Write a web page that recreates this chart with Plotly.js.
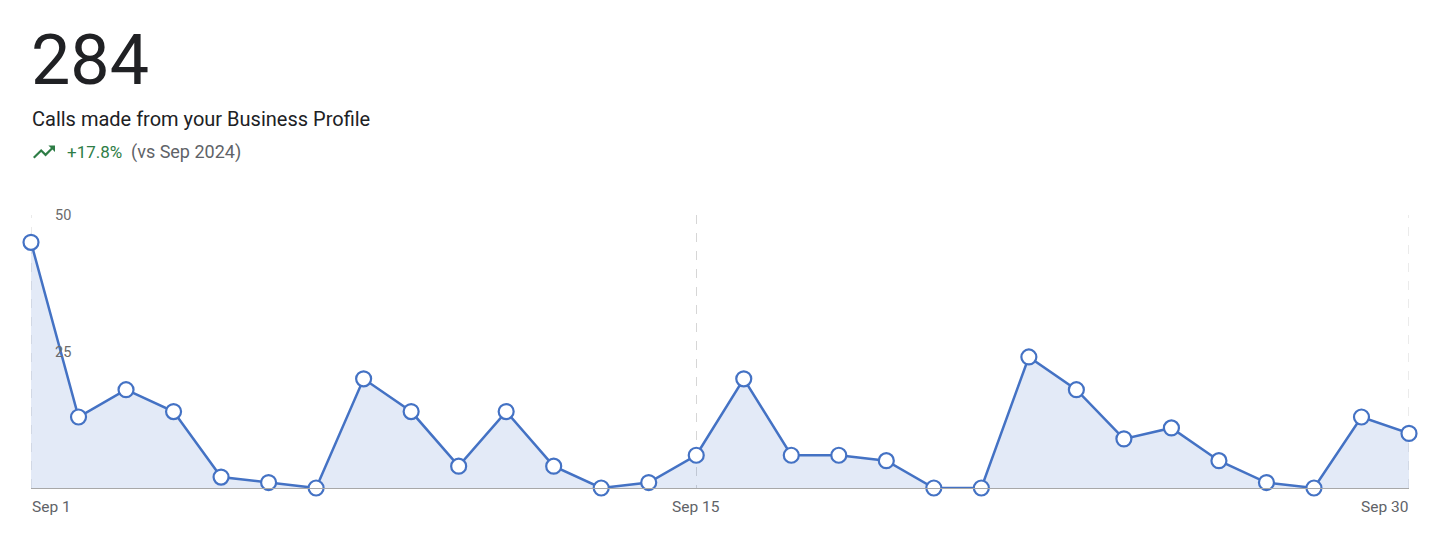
<!DOCTYPE html>
<html>
<head>
<meta charset="utf-8">
<script src="https://cdn.plot.ly/plotly-3.0.1.min.js"></script>
<style>
html,body{margin:0;padding:0;background:#fff;}
#chart{width:1440px;height:541px;}
</style>
</head>
<body>
<div id="chart"></div>
<script>
// ---- data ----
const days = [1,2,3,4,5,6,7,8,9,10,11,12,13,14,15,16,17,18,19,20,21,22,23,24,25,26,27,28,29,30];
const calls = [45,13,18,14,2,1,0,20,14,4,14,4,0,1,6,20,6,6,5,0,0,24,18,9,11,5,1,0,13,10];
const xTickDays = [1,15,30];
const xTickLabels = ["Sep 1","Sep 15","Sep 30"];
const yTickVals = [25,50];
const yTickLabels = ["25","50"];
const totalCalls = "284";
const metricTitle = "Calls made from your Business Profile";
const changeText = "+17.8%";
const compareText = "(vs Sep 2024)";

// ---- layout helpers ----
const W = 1440, H = 541;
const M = {l:31, r:31, t:215, b:53};
const plotW = W - M.l - M.r, plotH = H - M.t - M.b;
const px = X => (X - M.l) / plotW;          // page pixel -> paper x
const py = Y => (H - M.b - Y) / plotH;      // page pixel -> paper y

// trending-up icon path (Material icon, 24x24), in pixels around its centre
const iconPts = [[16,6],[18.29,8.29],[13.41,13.17],[9.41,9.17],[2,16.59],[3.41,18],[9.41,12],[13.41,16],[19.71,9.71],[22,12],[22,6]];
const s = 1.1;
const iconPath = iconPts.map((p,i)=>(i?'L':'M')+((p[0]-12)*s).toFixed(2)+','+(-(p[1]-12)*s).toFixed(2)).join(' ')+' Z';

const trace = {
  x: days, y: calls, type: 'scatter', mode: 'lines+markers',
  fill: 'tozeroy', fillcolor: 'rgba(66,113,204,0.15)',
  line: {color: '#4472c4', width: 2.5},
  marker: {size: 15, color: '#ffffff', line: {color: '#4472c4', width: 2.2}},
  cliponaxis: false, hoverinfo: 'x+y'
};

const xAnn = xTickDays.map((d,i)=>({
  x: d, xref: 'x', y: py(507), yref: 'paper', yanchor: 'middle',
  xanchor: i===0 ? 'left' : (i===xTickDays.length-1 ? 'right' : 'center'),
  text: xTickLabels[i], showarrow: false, borderpad: 0,
  font: {family: 'Roboto, sans-serif', size: 15.5, color: '#5f6368'}
}));

// dashed guide lines at the first and last day (plotly drops edge gridlines)
const edgeLines = [xTickDays[0], xTickDays[xTickDays.length-1]].map(d=>({
  type: 'line', xref: 'x', yref: 'paper', x0: d, x1: d, y0: 0, y1: 1, layer: 'below',
  line: {color: '#d6d6d6', width: 1, dash: 'dash'}
}));

const layout = {
  width: W, height: H,
  margin: M,
  paper_bgcolor: '#ffffff', plot_bgcolor: '#ffffff',
  showlegend: false,
  font: {family: 'Roboto, sans-serif', color: '#5f6368'},
  xaxis: {
    range: [days[0], days[days.length-1]], fixedrange: true,
    tickmode: 'array', tickvals: xTickDays, showticklabels: false,
    showgrid: true, gridcolor: '#d6d6d6', griddash: 'dash', gridwidth: 1,
    zeroline: false, showline: true, linecolor: '#a8a8a8', linewidth: 1, ticks: ''
  },
  yaxis: {
    range: [0, 50], fixedrange: true,
    tickmode: 'array', tickvals: yTickVals, ticktext: yTickLabels,
    ticklabelposition: 'inside', ticklabeloverflow: 'allow', ticks: '', ticklabelstandoff: 21,
    tickfont: {family: 'Roboto, sans-serif', size: 14.5, color: '#6b6b6b'},
    showgrid: false, zeroline: false, showline: false
  },
  annotations: [
    {x: px(29), y: py(60), xref: 'paper', yref: 'paper', xanchor: 'left', yanchor: 'middle',
     text: totalCalls, showarrow: false,
     font: {family: 'Roboto, sans-serif', size: 70, color: '#202124'}},
    {x: px(30), y: py(119), xref: 'paper', yref: 'paper', xanchor: 'left', yanchor: 'middle',
     text: metricTitle, showarrow: false,
     font: {family: 'Roboto, sans-serif', size: 20, color: '#202124'}},
    {x: px(65), y: py(152), xref: 'paper', yref: 'paper', xanchor: 'left', yanchor: 'middle',
     text: changeText, showarrow: false,
     font: {family: 'Roboto, sans-serif', size: 17, color: '#2e7d46'}},
    {x: px(129), y: py(152), xref: 'paper', yref: 'paper', xanchor: 'left', yanchor: 'middle',
     text: compareText, showarrow: false,
     font: {family: 'Roboto, sans-serif', size: 18, color: '#5f6368'}}
  ].concat(xAnn),
  shapes: [
    {type: 'path', xref: 'paper', yref: 'paper', xsizemode: 'pixel', ysizemode: 'pixel',
     xanchor: px(44), yanchor: py(152), path: iconPath,
     fillcolor: '#2e7d46', line: {width: 0}}
  ].concat(edgeLines)
};

Plotly.newPlot('chart', [trace], layout, {displayModeBar: false, staticPlot: true});
</script>
</body>
</html>
